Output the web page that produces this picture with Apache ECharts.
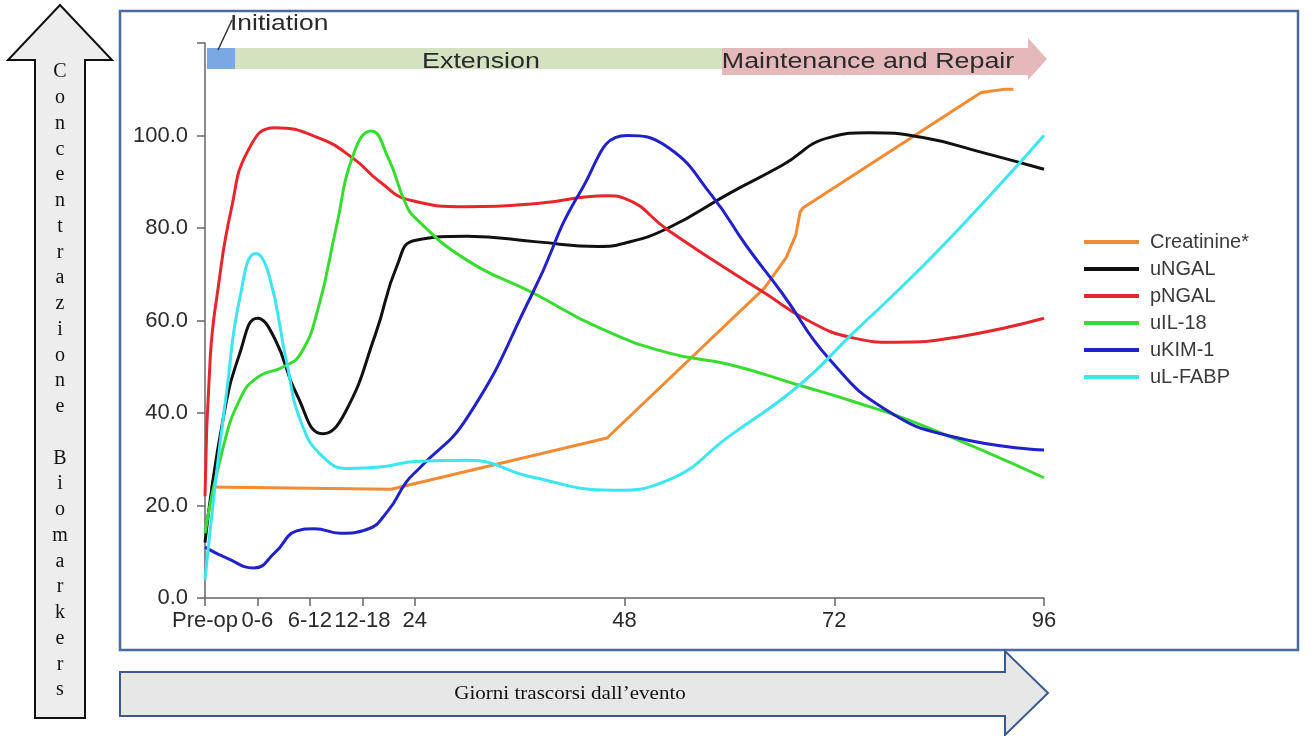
<!DOCTYPE html>
<html>
<head>
<meta charset="utf-8">
<script src="https://cdn.jsdelivr.net/npm/echarts@6/dist/echarts.min.js"></script>
<style>
  html, body { margin: 0; padding: 0; background: #fff; }
  #main { width: 1311px; height: 736px; }
</style>
</head>
<body>
<div id="main"></div>
<script>
// x = hours from the event, y = relative concentration
var xTicks = [0, 6, 12, 18, 24, 48, 72, 96];
var xTickLabels = ['Pre-op', '0-6', '6-12', '12-18', '24', '48', '72', '96'];

var creatinine = [[0.6,24],[21.3,23.5],[46,34.6],[64,67],[66.5,73.6],[67.6,78.5],[68.1,83.5],[68.4,84.3],[88.8,109.3],[91.5,110],[92.5,110]];
var uNGAL = [[0,12],[2,38],[4,53],[6,60.5],[8,56],[10.5,44],[13.5,35.5],[16,40],[19.5,57],[22,72],[24,77.3],[30,78.2],[38,77],[45,76],[48,76.7],[53,80],[60,87.5],[66,93.5],[71.5,99.6],[76,100.6],[82,99.6],[89,96.3],[96,92.7]];
var pNGAL = [[0,22],[0.6,52],[1.5,67],[3,84],[5,97],[8,101.7],[13,99.5],[17,95],[20,90],[23.5,86],[30,84.6],[38,85.3],[46,87],[48,86.4],[53,79.5],[59,72],[64,66],[69,60],[74,56.3],[79,55.3],[86,56.4],[96,60.5]];
var uIL18 = [[0,14],[2,32],[4,43],[6,47.7],[9,50],[11,53],[13,63],[15,80],[17,96],[19,101],[21,95],[22.8,86],[24,82.3],[30,73],[37.5,66],[45,58.5],[53,53],[60,50.5],[68,46],[74,42.6],[82,37.4],[96,26]];
var uKIM1 = [[0,11],[2.5,8.6],[5.6,6.5],[8,9.8],[10.5,14.5],[12.5,15],[15.5,14],[18.5,14.8],[21,19],[23,25],[24.5,28],[30,39],[37.5,66],[43,88],[48.3,100],[53,97.4],[58,87],[62,76],[66,66],[71.5,51.5],[78,40.6],[85.7,34.8],[96,32]];
var uLFABP = [[0,4],[1.2,25],[2.5,45],[4,65],[5.8,74.5],[7.3,70],[9.3,51.4],[11,38],[13.5,30.5],[16.5,28],[20,28.3],[24,29.5],[30,29.8],[37.5,26.1],[46.7,23.3],[53,25.5],[60,35],[68,46],[74,57],[82,71.5],[89.6,86.6],[96,100]];

var yAxisTitle = 'Concentrazione Biomarkers';
var xAxisTitle = 'Giorni trascorsi dall\u2019evento';

var chartDom = document.getElementById('main');
var myChart = echarts.init(chartDom, null, { renderer: 'canvas' });

function line(name, data, color, smooth) {
  return {
    name: name,
    type: 'line',
    data: data,
    showSymbol: false,
    symbol: 'none',
    smooth: smooth,
    lineStyle: { color: color, width: 3 },
    itemStyle: { color: color }
  };
}

// letters of the vertical arrow
var letters = [];
for (var i = 0; i < yAxisTitle.length; i++) {
  letters.push({
    type: 'text', x: 60, y: 72 + i * 25.75, silent: true,
    style: { text: yAxisTitle[i], fill: '#111', font: '20px "Liberation Serif", serif', textAlign: 'center', textVerticalAlign: 'middle' }
  });
}

var option = {
  animation: false,
  backgroundColor: '#fff',
  textStyle: { fontFamily: 'Arial, "Liberation Sans", sans-serif' },
  grid: { left: 205, right: 267, top: 43, bottom: 138 },
  legend: {
    orient: 'vertical',
    left: 1084,
    top: 232,
    padding: 0,
    itemGap: 7,
    itemWidth: 55,
    itemHeight: 4,
    icon: 'rect',
    textStyle: { fontSize: 20, lineHeight: 20, color: '#3a3a3a', padding: [0, 0, 0, 6] },
    data: ['Creatinine*', 'uNGAL', 'pNGAL', 'uIL-18', 'uKIM-1', 'uL-FABP']
  },
  xAxis: {
    type: 'value',
    min: 0,
    max: 96,
    splitLine: { show: false },
    axisLine: { show: true, lineStyle: { color: '#666', width: 1.5 } },
    axisTick: { show: true, customValues: xTicks, length: 8, lineStyle: { color: '#666', width: 1.5 } },
    axisLabel: {
      customValues: xTicks,
      margin: 12,
      fontSize: 22,
      color: '#2a2a2a',
      formatter: function (v) { return xTickLabels[xTicks.indexOf(v)]; }
    }
  },
  yAxis: {
    type: 'value',
    min: 0,
    max: 120,
    interval: 20,
    splitLine: { show: false },
    axisLine: { show: true, lineStyle: { color: '#666', width: 1.5 } },
    axisTick: { show: true, length: 8, lineStyle: { color: '#666', width: 1.5 } },
    axisLabel: {
      margin: 17,
      fontSize: 22,
      color: '#2a2a2a',
      formatter: function (v) { return v === 120 ? '' : v.toFixed(1); }
    }
  },
  graphic: [
    // outer blue frame
    { type: 'rect', silent: true, z: 0, shape: { x: 120, y: 11, width: 1178, height: 639 },
      style: { fill: 'none', stroke: '#4a6aa0', lineWidth: 2.5 } },
    // left arrow
    { type: 'polygon', silent: true, shape: { points: [[35,718],[35,60],[8,60],[60,5],[112,60],[85,60],[85,718]] },
      style: { fill: '#ededed', stroke: '#111', lineWidth: 2 } },
    // bottom arrow
    { type: 'polygon', silent: true, shape: { points: [[120,672],[1005,672],[1005,651],[1048,693],[1005,735],[1005,716],[120,716]] },
      style: { fill: '#e7e7e7', stroke: '#3a5a8e', lineWidth: 2 } },
    { type: 'text', silent: true, x: 570, y: 694, scaleX: 1.17,
      style: { text: xAxisTitle, fill: '#111', font: '18px "Liberation Serif", serif', textAlign: 'center', textVerticalAlign: 'middle' } },
    // phase bars
    { type: 'rect', silent: true, shape: { x: 207, y: 48, width: 28, height: 21 }, style: { fill: '#7aa8e2' } },
    { type: 'rect', silent: true, shape: { x: 235, y: 48, width: 487, height: 21 }, style: { fill: '#d4e3bf' } },
    { type: 'polygon', silent: true, shape: { points: [[722,48],[1028,48],[1028,38],[1047,59],[1028,80],[1028,75],[722,75]] },
      style: { fill: '#e5b9bc' } },
    { type: 'line', silent: true, shape: { x1: 218, y1: 50, x2: 232, y2: 20 }, style: { stroke: '#333', lineWidth: 1.5 } },
    { type: 'text', silent: true, x: 230, y: 24, scaleX: 1.2,
      style: { text: 'Initiation', fill: '#2a2a2a', font: '22px Arial, "Liberation Sans", sans-serif', textAlign: 'left', textVerticalAlign: 'middle' } },
    { type: 'text', silent: true, x: 481, y: 62, scaleX: 1.22,
      style: { text: 'Extension', fill: '#2a2a2a', font: '22px Arial, "Liberation Sans", sans-serif', textAlign: 'center', textVerticalAlign: 'middle' } },
    { type: 'text', silent: true, x: 868, y: 62, scaleX: 1.22,
      style: { text: 'Maintenance and Repair', fill: '#2a2a2a', font: '22px Arial, "Liberation Sans", sans-serif', textAlign: 'center', textVerticalAlign: 'middle' } }
  ].concat(letters),
  series: [
    line('Creatinine*', creatinine, '#f38b33', false),
    line('uNGAL', uNGAL, '#111111', 0.5),
    line('pNGAL', pNGAL, '#e6252c', 0.5),
    line('uIL-18', uIL18, '#38dc2f', 0.5),
    line('uKIM-1', uKIM1, '#2121c9', 0.5),
    line('uL-FABP', uLFABP, '#3ce6ef', 0.5)
  ]
};

myChart.setOption(option);
</script>
</body>
</html>
